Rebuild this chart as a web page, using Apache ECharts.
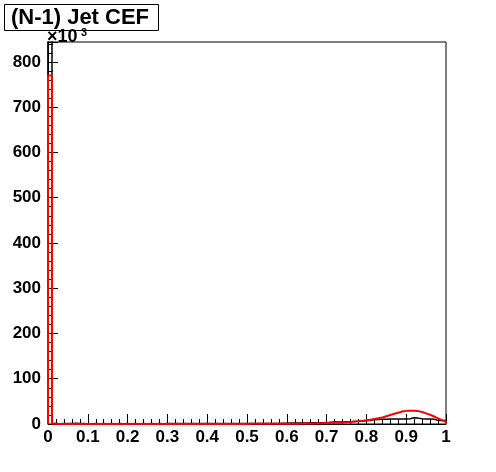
<!DOCTYPE html>
<html>
<head>
<meta charset="utf-8">
<script src="https://cdn.jsdelivr.net/npm/echarts@6/dist/echarts.min.js"></script>
<style>html,body{margin:0;padding:0;background:#fff;}#c{width:496px;height:472px;}</style>
</head>
<body>
<div id="c"></div>
<script>
// bin width 0.01, 100 bins from 0 to 1; values in units of 10^3
const binWidth = 0.01;
const blackCounts = [
  900, 1.2, 0.8, 0.9, 1.0, 1.1, 1.6, 1.0, 0.9, 0.8,
  0.8, 0.9, 0.8, 0.9, 0.8, 0.9, 0.8, 0.9, 0.8, 0.9,
  0.8, 0.9, 0.8, 0.9, 0.8, 0.9, 0.8, 0.9, 0.8, 0.9,
  0.9, 0.9, 0.9, 0.9, 0.9, 0.9, 0.9, 0.9, 0.9, 0.9,
  1.0, 1.0, 1.0, 1.0, 1.0, 1.0, 1.0, 1.0, 1.0, 1.0,
  1.1, 1.1, 1.1, 1.2, 1.2, 1.2, 1.3, 1.3, 1.4, 1.4,
  2.0, 2.1, 2.2, 2.3, 2.4, 2.5, 2.6, 2.7, 2.8, 3.0,
  4.0, 4.2, 4.4, 4.6, 4.8, 5.0, 5.5, 6.0, 6.5, 7.0,
  8.5, 9.5, 10.0, 10.5, 10.5, 11.0, 11.0, 11.0, 11.0, 11.0,
  11.5, 14.0, 13.0, 11.5, 11.0, 11.0, 10.5, 8.0, 8.0, 7.5
];
const redCounts = [
  770, 0.3, 0.2, 0.2, 0.2, 0.2, 0.2, 0.2, 0.2, 0.2,
  0.2, 0.2, 0.2, 0.2, 0.2, 0.2, 0.2, 0.2, 0.2, 0.2,
  0.2, 0.2, 0.2, 0.2, 0.2, 0.2, 0.2, 0.2, 0.2, 0.2,
  0.2, 0.2, 0.2, 0.2, 0.2, 0.2, 0.2, 0.2, 0.2, 0.2,
  0.2, 0.2, 0.2, 0.2, 0.2, 0.2, 0.2, 0.2, 0.2, 0.2,
  0.3, 0.3, 0.3, 0.3, 0.4, 0.4, 0.4, 0.5, 0.5, 0.5,
  0.6, 0.7, 0.8, 0.9, 1.0, 1.1, 1.3, 1.5, 1.7, 2.0,
  2.3, 2.6, 3.0, 3.5, 4.0, 4.6, 5.5, 6.3, 7.2, 8.2,
  9.5, 11.0, 12.5, 14.5, 17.0, 20.0, 22.5, 25.0, 27.5, 29.0,
  29.5, 29.5, 28.5, 26.5, 23.5, 20.5, 16.5, 12.5, 8.5, 4.5
];
const xTickLabels = ['0','0.1','0.2','0.3','0.4','0.5','0.6','0.7','0.8','0.9','1'];
const yTickLabels = ['0','100','200','300','400','500','600','700','800'];

function histPoints(counts) {
  const pts = [[0, 0]];
  counts.forEach((v, i) => pts.push([+(i * binWidth).toFixed(2), v]));
  pts.push([1, counts[counts.length - 1]]);
  pts.push([1, 0]);
  return pts;
}

const font = 'Liberation Sans, Arial, Helvetica, sans-serif';
const chart = echarts.init(document.getElementById('c'), null, {renderer: 'canvas'});
chart.setOption({
  animation: false,
  backgroundColor: '#fff',
  grid: {left: 48, right: 50, top: 42, bottom: 48, show: true, borderColor: '#000', borderWidth: 1, backgroundColor: 'transparent'},
  xAxis: {
    type: 'value', min: 0, max: 1, interval: 0.1,
    axisLine: {show: true, onZero: false, lineStyle: {color: '#000', width: 1}},
    axisTick: {show: true, inside: true, length: 10, lineStyle: {color: '#000'}},
    minorTick: {show: true, splitNumber: 5, length: 5, lineStyle: {color: '#000'}},
    splitLine: {show: false},
    axisLabel: {
      color: '#000', fontFamily: font, fontWeight: 'bold', fontSize: 17, margin: 5,
      formatter: v => { const i = Math.round(v * 10); return Math.abs(v * 10 - i) < 1e-6 ? xTickLabels[i] : ''; }
    }
  },
  yAxis: {
    type: 'value', min: 0, max: 844, interval: 100,
    axisLine: {show: true, onZero: false, lineStyle: {color: '#000', width: 1}},
    axisTick: {show: true, inside: true, length: 10, lineStyle: {color: '#000'}},
    minorTick: {show: true, splitNumber: 5, length: 5, lineStyle: {color: '#000'}},
    splitLine: {show: false},
    axisLabel: {
      color: '#000', fontFamily: font, fontWeight: 'bold', fontSize: 17, margin: 7, showMaxLabel: true,
      formatter: v => { const i = Math.round(v / 100); return (Math.abs(v - i * 100) < 1e-6 && i < yTickLabels.length) ? yTickLabels[i] : ''; }
    }
  },
  series: [
    {
      type: 'line', step: 'end', data: histPoints(blackCounts), showSymbol: false, symbol: 'none',
      lineStyle: {color: '#000', width: 1.5}, z: 2, clip: true
    },
    {
      type: 'line', step: 'end', data: histPoints(redCounts), showSymbol: false, symbol: 'none',
      lineStyle: {color: '#ff0000', width: 2}, z: 3, clip: true
    }
  ],
  graphic: [
    {type: 'rect', left: 4, top: 4, shape: {width: 154, height: 26}, style: {fill: '#fff', stroke: '#000', lineWidth: 1}, z: 10},
    {type: 'text', x: 80, y: 17.5, style: {text: '(N-1) Jet CEF', fontFamily: font, fontWeight: 'bold', fontSize: 22, fill: '#000', align: 'center', verticalAlign: 'middle'}, z: 11},
    {type: 'text', x: 47, y: 46, style: {text: '×10', fontFamily: font, fontWeight: 'bold', fontSize: 18, fill: '#000', align: 'left', verticalAlign: 'bottom'}, z: 11},
    {type: 'text', x: 81, y: 38, style: {text: '3', fontFamily: font, fontWeight: 'bold', fontSize: 11, fill: '#000', align: 'left', verticalAlign: 'bottom'}, z: 11}
  ]
});
</script>
</body>
</html>
